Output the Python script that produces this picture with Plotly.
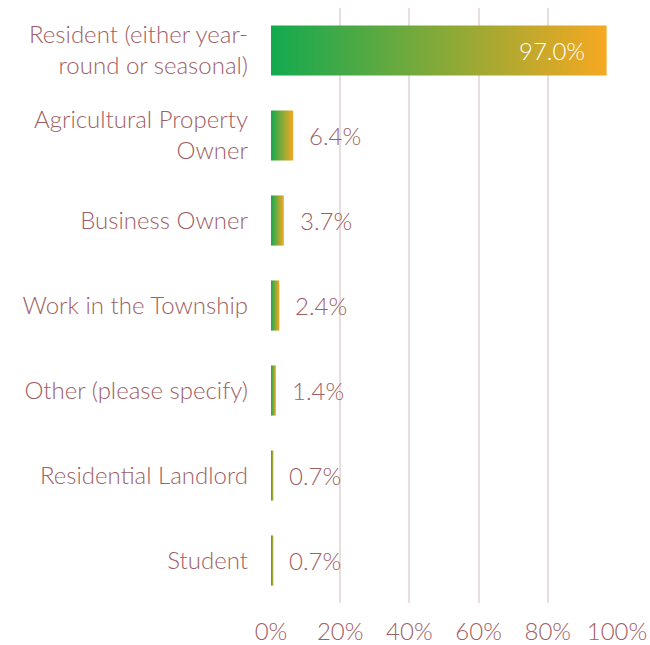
import plotly.graph_objects as go

categories = [
    "Resident (either year-<br>round or seasonal)",
    "Agricultural Property<br>Owner",
    "Business Owner",
    "Work in the Township",
    "Other (please specify)",
    "Residential Landlord",
    "Student",
]
values = [97.0, 6.4, 3.7, 2.4, 1.4, 0.7, 0.7]
x_ticks = [0, 20, 40, 60, 80, 100]
x_tick_labels = ["0%", "20%", "40%", "60%", "80%", "100%"]

TEXT = "#9e6064"
GRID = "#e9dede"
GREEN = "#12aa50"
ORANGE = "#f6a821"
FONT = "Lato"
SIZE = 24
HALF = 0.295  # half bar thickness in category units

fig = go.Figure()

# each bar is a filled rectangle with its own left-to-right gradient
for i, v in enumerate(values):
    fig.add_trace(go.Scatter(
        x=[0, v, v, 0, 0],
        y=[i - HALF, i - HALF, i + HALF, i + HALF, i - HALF],
        mode="lines",
        line=dict(width=0),
        fill="toself",
        fillgradient=dict(type="horizontal",
                          colorscale=[[0, GREEN], [1, ORANGE]]),
        hoverinfo="skip",
        showlegend=False,
    ))

# value labels
for i, v in enumerate(values):
    inside = v > 50
    fig.add_annotation(
        x=v, y=i, xref="x", yref="y",
        text=f"{v:.1f}%",
        showarrow=False,
        xanchor="right" if inside else "left",
        xshift=-20 if inside else 14,
        font=dict(family=FONT, size=SIZE, weight=300,
                  color="white" if inside else TEXT),
    )

fig.update_layout(
    width=650, height=645,
    margin=dict(l=271, r=33, t=8, b=42),
    paper_bgcolor="white",
    plot_bgcolor="white",
    font=dict(family=FONT, color=TEXT, size=SIZE, weight=300),
    xaxis=dict(
        range=[0, 100],
        tickvals=x_ticks, ticktext=x_tick_labels,
        showgrid=True, gridcolor=GRID, gridwidth=1.5,
        zeroline=False, showline=False,
        ticks="", ticklen=0, ticklabelstandoff=12,
        automargin=False,
        tickfont=dict(family=FONT, size=SIZE, weight=300, color=TEXT),
    ),
    yaxis=dict(
        range=[6.5, -0.5],
        tickvals=list(range(len(categories))), ticktext=categories,
        showgrid=False, zeroline=False, showline=False,
        ticks="", ticklabelstandoff=22, automargin=False,
        tickfont=dict(family=FONT, size=SIZE, weight=300, color=TEXT),
    ),
)

fig.write_html("out.html")
